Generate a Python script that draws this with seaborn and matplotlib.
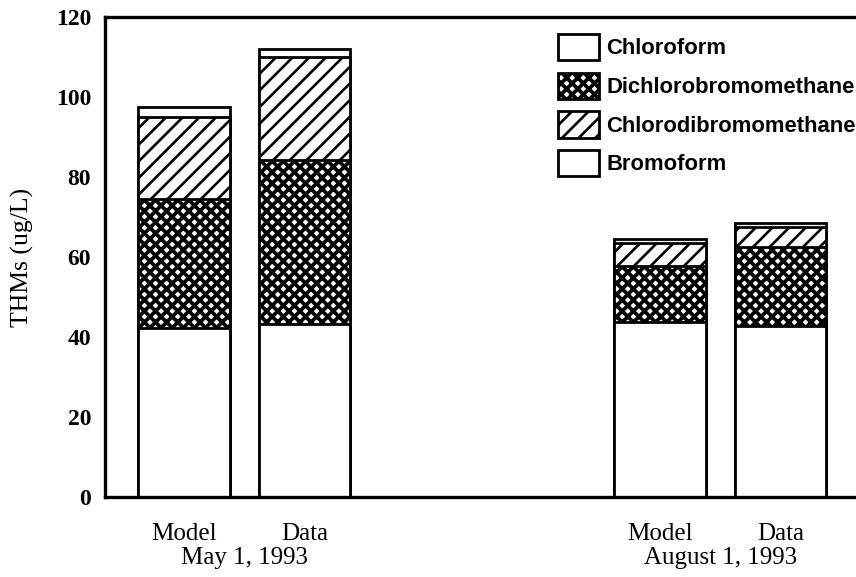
import matplotlib
matplotlib.use("Agg")
import matplotlib.pyplot as plt
from matplotlib.patches import Patch
from matplotlib.transforms import blended_transform_factory
import numpy as np
import pandas as pd
import seaborn as sns

# THM species concentrations (ug/L) for each run
runs = ["Model", "Data", "Model", "Data"]
dates = ["May 1, 1993", "August 1, 1993"]
chloroform = [42.2, 43.2, 43.8, 42.8]
dichlorobromomethane = [32.3, 41.0, 14.0, 19.7]
chlorodibromomethane = [20.6, 25.8, 5.7, 5.0]
bromoform = [2.5, 2.0, 1.0, 1.0]
species = ["Chloroform", "Dichlorobromomethane", "Chlorodibromomethane", "Bromoform"]
yticks = [0, 20, 40, 60, 80, 100, 120]

# horizontal slot of each bar (two pairs separated by a wide gap)
slots = [0.0, 1.0, 3.95, 4.95]

sns.set_theme(style="white")
plt.rcParams.update({"text.color": "black", "axes.labelcolor": "black",
                     "xtick.color": "black", "ytick.color": "black"})

fig = plt.figure(figsize=(8.56, 5.77), dpi=100)
ax = fig.add_axes([105 / 856, 80 / 577, 1 - 105 / 856, 480 / 577])

layers = np.vstack([chloroform, dichlorobromomethane, chlorodibromomethane, bromoform])
cum = np.cumsum(layers, axis=0)
hatches = ["", "xxx", "//", ""]
hatch_lw = [1.0, 2.7, 1.9, 1.0]


def set_hatch_width(patch, lw):
    if hasattr(patch, "set_hatch_linewidth"):
        patch.set_hatch_linewidth(lw)
    else:
        patch._hatch_linewidth = lw


# draw cumulative stacks from the top down so each lower layer covers the one above
for i in reversed(range(len(species))):
    df = pd.DataFrame({"slot": slots, "total": cum[i]})
    sns.barplot(data=df, x="slot", y="total", native_scale=True, width=0.76,
                color="white", edgecolor="black", linewidth=2.0,
                hatch=hatches[i], errorbar=None, ax=ax)
    for p in ax.patches[-len(slots):]:
        p.set_facecolor("white")
        p.set_hatch(hatches[i])
        set_hatch_width(p, hatch_lw[i])

ax.set_xlim(-0.656, 5.577)
ax.set_ylim(0, 120)
ax.set_yticks(yticks)
ax.set_yticklabels([str(v) for v in yticks], fontfamily="Liberation Serif",
                   fontweight="bold", fontsize=17)
ax.tick_params(axis="y", direction="in", length=3, width=3, pad=10, colors="black")
ax.set_xticks(slots)
ax.set_xticklabels(runs, fontfamily="Liberation Serif", fontsize=18)
ax.tick_params(axis="x", length=0, pad=19, colors="black")
ax.set_xlabel("")
ax.set_ylabel("THMs (ug/L)", fontfamily="Liberation Serif", fontsize=18.5, labelpad=16,
              color="black")

for side in ["top", "left", "bottom"]:
    ax.spines[side].set_visible(True)
    ax.spines[side].set_linewidth(2.4)
    ax.spines[side].set_color("black")
ax.spines["right"].set_visible(False)

trans = blended_transform_factory(ax.transData, ax.transAxes)
for k, label in enumerate(dates):
    xm = (slots[2 * k] + slots[2 * k + 1]) / 2
    ax.text(xm, -0.128, label, transform=trans, ha="center", va="center",
            fontfamily="Liberation Serif", fontsize=18, color="black")

handles = [Patch(facecolor="white", edgecolor="black", linewidth=2.0, hatch=h)
           for h in hatches]
leg = ax.legend(handles, species, loc="upper left",
                bbox_to_anchor=(558 / 856, 1 - 34 / 577),
                bbox_transform=fig.transFigure, frameon=False, borderpad=0,
                borderaxespad=0, handlelength=1.85, handleheight=1.48,
                labelspacing=0.55, handletextpad=0.35, labelcolor="black",
                prop={"family": "Liberation Sans", "weight": "bold", "size": 15.8})
for p, lw in zip(leg.get_patches(), hatch_lw):
    set_hatch_width(p, lw)

fig.savefig("out.png", dpi=100, facecolor="white")
